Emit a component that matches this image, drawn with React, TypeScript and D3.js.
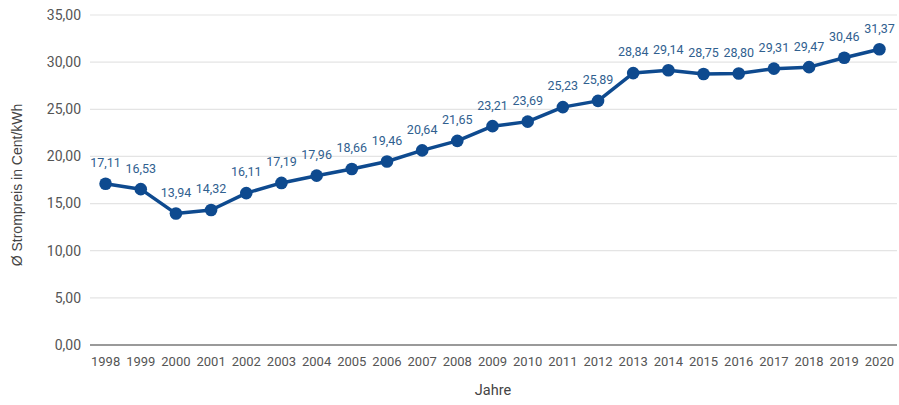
import React from "react";
import * as d3 from "d3";

const years = ["1998","1999","2000","2001","2002","2003","2004","2005","2006","2007","2008","2009","2010","2011","2012","2013","2014","2015","2016","2017","2018","2019","2020"];
const prices = [17.11,16.53,13.94,14.32,16.11,17.19,17.96,18.66,19.46,20.64,21.65,23.21,23.69,25.23,25.89,28.84,29.14,28.75,28.80,29.31,29.47,30.46,31.37];
const yTicks = [0,5,10,15,20,25,30,35];

const W = 899, H = 405;
const left = 88, right = 897, top = 15, bottom = 345;

const fmt = (v: number) => v.toFixed(2).replace(".", ",");

export default function App() {
  const x = d3.scaleBand<string>().domain(years).range([left, right]);
  const y = d3.scaleLinear().domain([0, 35]).range([bottom, top]);
  const cx = (yr: string) => (x(yr) as number) + x.bandwidth() / 2;
  const line = d3.line<number>().x((_, i) => cx(years[i])).y((d) => y(d));
  return (
    <svg width={W} height={H} style={{ position: "absolute", left: 0, top: 0, background: "#fff" }}>
      {yTicks.map((t) => (
        <g key={t}>
          {t > 0 && <line x1={left + 2} x2={right} y1={y(t)} y2={y(t)} stroke="#e4e4e4" strokeWidth={1.2} />}
          <text x={81} y={y(t)} dy="0.35em" textAnchor="end" fontFamily="Roboto" fontSize={14} fill="#555">{fmt(t)}</text>
        </g>
      ))}
      <line x1={left + 2} x2={right} y1={bottom} y2={bottom} stroke="#9a9a9a" strokeWidth={2} />
      {years.map((yr) => (
        <text key={yr} x={cx(yr)} y={361} dy="0.35em" textAnchor="middle" fontFamily="Roboto" fontSize={13} fill="#555">{yr}</text>
      ))}
      <path d={line(prices) ?? ""} fill="none" stroke="#0e4a8f" strokeWidth={3.5} strokeLinejoin="round" />
      {prices.map((p, i) => (
        <g key={years[i]}>
          <circle cx={cx(years[i])} cy={y(p)} r={6.3} fill="#0e4a8f" />
          <text x={cx(years[i])} y={y(p) - 21} dy="0.35em" textAnchor="middle" fontFamily="Roboto" fontSize={12.5} fill="#30608f">{fmt(p)}</text>
        </g>
      ))}
      <text transform={`translate(22,${(top + bottom) / 2 + 5}) rotate(-90)`} textAnchor="middle" fontFamily="Liberation Sans, Arial" fontSize={14} fill="#444">Ø Strompreis in Cent/kWh</text>
      <text x={493} y={395} textAnchor="middle" fontFamily="Roboto" fontSize={14.5} fill="#444">Jahre</text>
    </svg>
  );
}
